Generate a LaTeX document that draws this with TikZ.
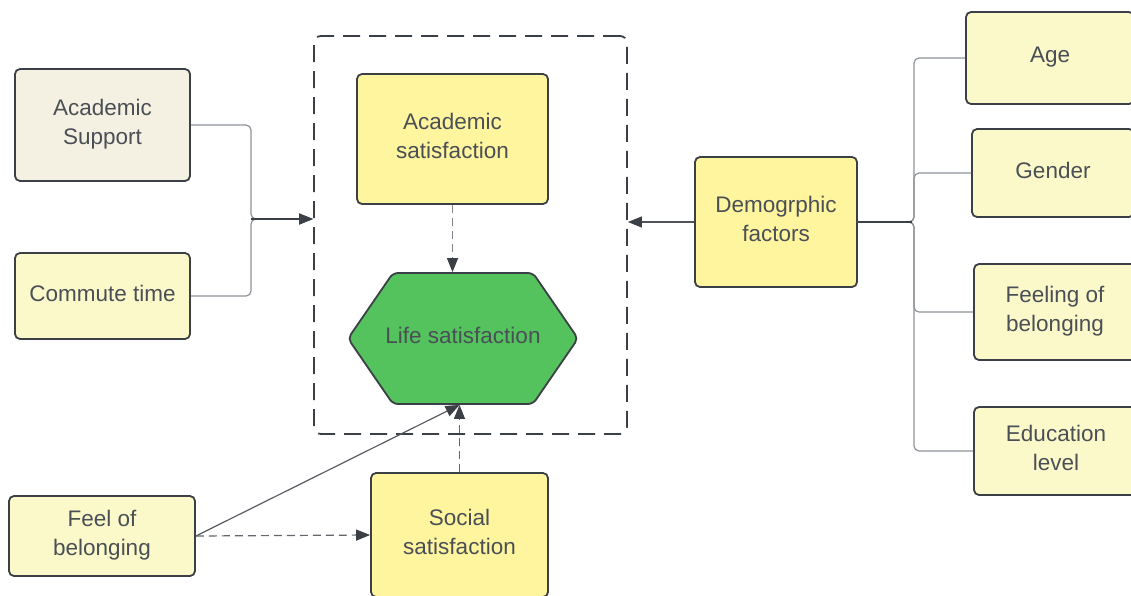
\documentclass[tikz,border=0pt]{standalone}
\usepackage{fontspec}
\setmainfont{Liberation Sans}
\usetikzlibrary{arrows.meta,calc}
\definecolor{edgec}{HTML}{3B3F46}
\definecolor{textc}{HTML}{4A4F56}
\definecolor{wirec}{HTML}{8E9399}
\definecolor{beige}{HTML}{F5F1E2}
\definecolor{paleyel}{HTML}{FBF9C9}
\definecolor{yel}{HTML}{FFF59F}
\definecolor{grn}{HTML}{54C35E}
\begin{document}
\begin{tikzpicture}[x=1pt,y=-1pt,
  box/.style={draw=edgec, line width=1.8pt, rounded corners=5pt, align=center,
    text=textc, font=\fontsize{22.5}{28.5}\selectfont, inner sep=0pt, text depth=6pt},
  wire/.style={draw=wirec, line width=1.2pt, rounded corners=5pt},
  arrowtip/.style={-{Triangle[length=14pt,width=11pt]}, arrows={[color=edgec]}},
  dashline/.style={draw=edgec!80, line width=1.2pt, dash pattern=on 8pt off 5pt},
]
\useasboundingbox (0,0) rectangle (1131,595);

% dashed frame around the satisfaction block
\node[draw=edgec, line width=1.8pt, rounded corners=7pt, dash pattern=on 17pt off 9pt,
  minimum width=313pt, minimum height=398pt] (frame) at (470.5,235) {};

% life satisfaction hexagon
\coordinate (lc) at (463,338.5);
\draw[draw=edgec, line width=1.8pt, fill=grn, rounded corners=5pt]
  ($(lc)+(-115,0)$) -- ($(lc)+(-70,-65.5)$) -- ($(lc)+(70,-65.5)$) --
  ($(lc)+(115,0)$) -- ($(lc)+(70,65.5)$) -- ($(lc)+(-70,65.5)$) -- cycle;
\node[box, draw=none, rounded corners=0pt, minimum width=230pt, minimum height=131pt]
  (life) at (lc) {Life satisfaction};

% factor boxes
\node[box, fill=beige, minimum width=175pt, minimum height=112pt] (asup) at (102.5,125) {Academic\\Support};
\node[box, fill=paleyel, minimum width=175pt, minimum height=86pt] (comm) at (102.5,296) {Commute time};
\node[box, fill=yel, minimum width=191pt, minimum height=130pt] (acsat) at (452.5,139) {Academic\\satisfaction};
\node[box, fill=yel, minimum width=162pt, minimum height=130pt] (demo) at (776,222) {Demogrphic\\factors};
\node[box, fill=paleyel, minimum width=168pt, minimum height=92pt] (age) at (1050,58) {Age};
\node[box, fill=paleyel, minimum width=162pt, minimum height=88pt] (gender) at (1053,173) {Gender};
\node[box, fill=paleyel, minimum width=162pt, minimum height=96pt] (feeling) at (1055,312) {Feeling of\\belonging};
\node[box, fill=paleyel, minimum width=164pt, minimum height=88pt] (edu) at (1056,451) {Education\\level};
\node[box, fill=paleyel, minimum width=186pt, minimum height=80pt] (feel) at (102,536) {Feel of\\belonging};
\node[box, fill=yel, minimum width=177pt, minimum height=124pt] (soc) at (459.5,535) {Social\\satisfaction};

% connectors on the left
\coordinate (inL) at (313,219);
\draw[wire, arrowtip] (asup.east) -- (251,125) |- (inL);
\draw[wire, arrowtip] (comm.east) -- (251,296) |- (inL);
\draw[edgec, line width=1.2pt] (251,219) -- ($(inL)+(-8,0)$);

% demographic factors
\draw[wire, draw=edgec!90, arrowtip] (demo.west) -- (frame.east |- demo.west);
\draw[wire] (demo.east) -- (914,222) |- (age.west);
\draw[wire] (demo.east) -- (914,222) |- (gender.west);
\draw[wire] (demo.east) -- (914,222) |- (feeling.west);
\draw[wire] (demo.east) -- (914,222) |- (edu.west);
\draw[edgec, line width=1.4pt] (demo.east) -- (912,222);

% links into life satisfaction
\coordinate (lifeS) at (soc.north |- life.south);
\draw[dashline, draw=wirec!90!black, arrowtip] (acsat.south) -- (acsat.south |- life.north);
\draw[dashline, arrowtip] (soc.north) -- (lifeS);
\draw[edgec!85, line width=1.2pt, arrowtip] (feel.east) -- (lifeS);
\draw[dashline, arrowtip] (feel.east) -- (soc.west);
\end{tikzpicture}
\end{document}
